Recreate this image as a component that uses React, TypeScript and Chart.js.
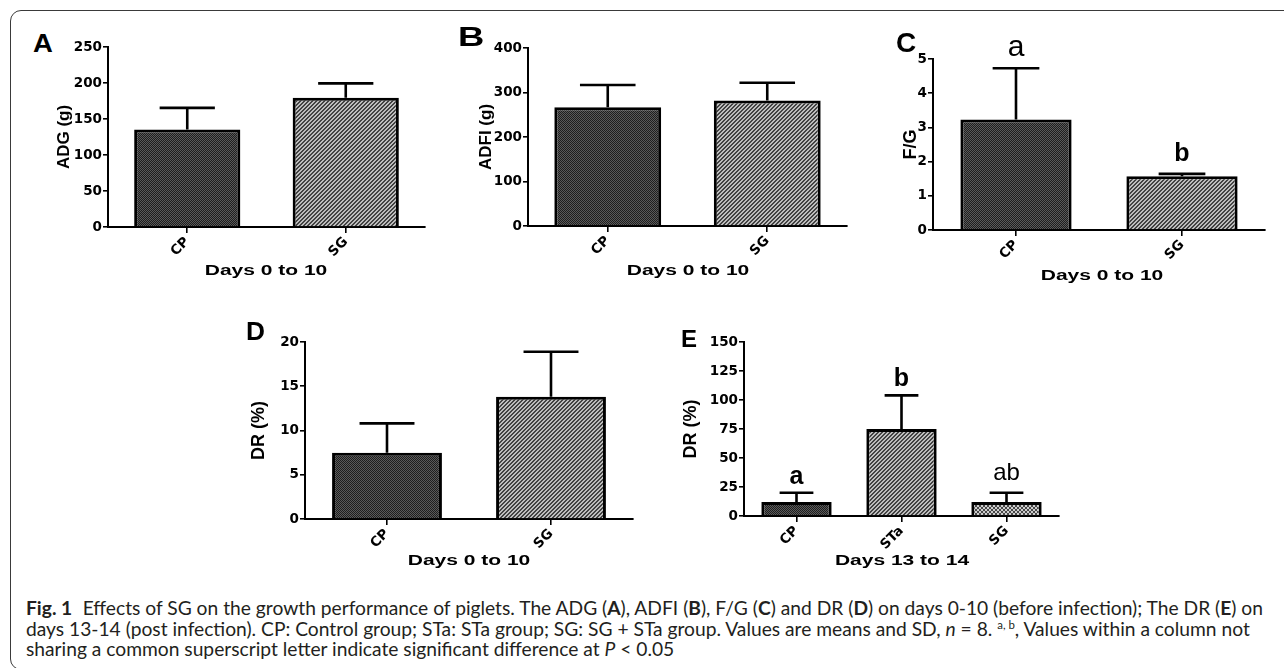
import React, { useEffect, useLayoutEffect, useRef, useState } from 'react';
import { Chart, registerables } from 'chart.js';

Chart.register(...registerables);

// ---------------- data ----------------
const groupsDays0to10 = ['CP', 'SG'];
const groupsDays13to14 = ['CP', 'STa', 'SG'];

const adgMean = [135.5, 179.5];
const adgSD = [30, 20];
const adgTicks = [0, 50, 100, 150, 200, 250];

const adfiMean = [267, 282];
const adfiSD = [50, 40];
const adfiTicks = [0, 100, 200, 300, 400];

const fgMean = [3.23, 1.57];
const fgSD = [1.5, 0.07];
const fgTicks = [0, 1, 2, 3, 4, 5];
const fgLetters = ['a', 'b'];

const drPreMean = [7.5, 13.8];
const drPreSD = [3.3, 5.1];
const drPreTicks = [0, 5, 10, 15, 20];

const drPostMean = [12, 75, 12];
const drPostSD = [8, 29, 8];
const drPostTicks = [0, 25, 50, 75, 100, 125, 150];
const drPostLetters = ['a', 'b', 'ab'];

// ---------------- layout / style ----------------
const PAD_T = 40;
const PAD_R = 6;
const X_AXIS_H = 44;
const SANS = '"Liberation Sans", Arial, sans-serif';

type PanelCfg = {
  labels: string[];
  values: number[];
  sd: number[];
  ticks: number[];
  title: string;
  L: number; R: number; T: number; B: number;
  titleCx: number; titleSize: number;
  fills: string[];
  letters?: string[];
  letterFonts?: string[];
  letterGaps?: number[];
  capRatio: number;
};

const panels: PanelCfg[] = [
  {
    labels: groupsDays0to10, values: adgMean, sd: adgSD, ticks: adgTicks, title: 'ADG (g)',
    L: 108, R: 425, T: 47, B: 227, titleCx: 64, titleSize: 17, fills: ['checker', 'diag'], capRatio: 0.52,
  },
  {
    labels: groupsDays0to10, values: adfiMean, sd: adfiSD, ticks: adfiTicks, title: 'ADFI (g)',
    L: 528, R: 847, T: 48, B: 226, titleCx: 486, titleSize: 17, fills: ['checker', 'diag'], capRatio: 0.52,
  },
  {
    labels: groupsDays0to10, values: fgMean, sd: fgSD, ticks: fgTicks, title: 'F/G',
    L: 933, R: 1265, T: 59, B: 230, titleCx: 911, titleSize: 18, fills: ['checker', 'diag'], capRatio: 0.42,
    letters: fgLetters,
    letterFonts: ['500 30px ' + SANS, 'bold 25px ' + SANS],
    letterGaps: [12, 13],
  },
  {
    labels: groupsDays0to10, values: drPreMean, sd: drPreSD, ticks: drPreTicks, title: 'DR (%)',
    L: 305, R: 633, T: 342, B: 519, titleCx: 259, titleSize: 18, fills: ['checker', 'diag'], capRatio: 0.5,
  },
  {
    labels: groupsDays13to14, values: drPostMean, sd: drPostSD, ticks: drPostTicks, title: 'DR (%)',
    L: 744, R: 1059, T: 342, B: 516, titleCx: 691, titleSize: 18, fills: ['checker', 'diag', 'cross'], capRatio: 0.48,
    letters: drPostLetters,
    letterFonts: ['bold 25px ' + SANS, 'bold 25px ' + SANS, 'normal 24px ' + SANS],
    letterGaps: [9, 9, 13],
  },
];

function makePattern(ctx: CanvasRenderingContext2D, kind: string): CanvasPattern | string {
  const tile = document.createElement('canvas');
  const g = tile.getContext('2d');
  if (!g) return '#777';
  if (kind === 'checker') {
    tile.width = 2; tile.height = 2;
    g.fillStyle = '#5a5a5a'; g.fillRect(0, 0, 2, 2);
    g.fillStyle = '#1e1e1e'; g.fillRect(0, 0, 1, 1); g.fillRect(1, 1, 1, 1);
  } else if (kind === 'diag') {
    tile.width = 4; tile.height = 4;
    g.fillStyle = '#bdbdbd'; g.fillRect(0, 0, 4, 4);
    g.fillStyle = '#424242';
    for (let y = 0; y < 4; y++) {
      g.fillRect((3 - y + 4) % 4, y, 1, 1);
      g.fillRect((4 - y) % 4, y, 1, 1);
    }
  } else {
    tile.width = 4; tile.height = 4;
    g.fillStyle = '#cdcdcd'; g.fillRect(0, 0, 4, 4);
    g.fillStyle = '#484848';
    for (let i = 0; i < 4; i++) {
      g.fillRect(i, i, 1, 1);
      g.fillRect(3 - i, i, 1, 1);
    }
  }
  return ctx.createPattern(tile, 'repeat') ?? '#777';
}

function BarPanel({ cfg }: { cfg: PanelCfg }) {
  const ref = useRef<HTMLCanvasElement>(null);
  const canvasLeft = Math.round(cfg.titleCx - (cfg.titleSize * 1.2) / 2);
  const canvasTop = cfg.T - PAD_T;
  const width = cfg.R + PAD_R - canvasLeft;
  const height = cfg.B + X_AXIS_H - canvasTop;

  useEffect(() => {
    const canvas = ref.current;
    if (!canvas) return;
    const ctx = canvas.getContext('2d');
    if (!ctx) return;
    const fills = cfg.fills.map((k) => makePattern(ctx, k));

    const errPlugin = {
      id: 'errorBarsAndLetters',
      afterDatasetsDraw(chart: any) {
        const c = chart.ctx as CanvasRenderingContext2D;
        const meta = chart.getDatasetMeta(0);
        const yScale = chart.scales.y;
        c.save();
        c.strokeStyle = '#000';
        c.fillStyle = '#000';
        c.lineWidth = 2.6;
        meta.data.forEach((bar: any, i: number) => {
          const v = cfg.values[i];
          const top = yScale.getPixelForValue(v);
          const errTop = yScale.getPixelForValue(v + cfg.sd[i]);
          const half = (bar.width * cfg.capRatio) / 2;
          c.beginPath();
          c.moveTo(bar.x, top);
          c.lineTo(bar.x, errTop);
          c.moveTo(bar.x - half, errTop);
          c.lineTo(bar.x + half, errTop);
          c.stroke();
          if (cfg.letters && cfg.letterFonts && cfg.letterGaps) {
            c.font = cfg.letterFonts[i];
            c.textAlign = 'center';
            c.textBaseline = 'alphabetic';
            c.fillText(cfg.letters[i], bar.x, errTop - cfg.letterGaps[i]);
          }
        });
        c.restore();
      },
    };

    const tickFont = { family: '"DejaVu Sans", sans-serif', weight: 'bold' as const, size: 13.5 };
    const chart = new Chart(canvas, {
      type: 'bar',
      data: {
        labels: cfg.labels,
        datasets: [
          {
            data: cfg.values,
            backgroundColor: fills as any,
            borderColor: '#000',
            borderWidth: 3,
            borderSkipped: 'start',
            barPercentage: 0.67,
            categoryPercentage: 1,
          },
        ],
      },
      options: {
        responsive: false,
        animation: false,
        devicePixelRatio: 1,
        layout: { padding: { top: PAD_T, right: PAD_R, left: 0, bottom: 0 } },
        plugins: {
          legend: { display: false },
          tooltip: { enabled: false },
          title: { display: false },
        },
        scales: {
          x: {
            type: 'category',
            offset: true,
            grid: {
              display: true,
              offset: false,
              drawOnChartArea: false,
              drawTicks: true,
              tickLength: 6,
              color: '#000',
              lineWidth: 1.6,
            },
            border: { display: true, color: '#000', width: 2 },
            ticks: {
              autoSkip: false,
              minRotation: 45,
              maxRotation: 45,
              color: '#000',
              font: tickFont,
              padding: 1,
            },
            afterFit: (s: any) => {
              s.height = X_AXIS_H;
              s.paddingLeft = 0;
              s.paddingRight = 0;
            },
          },
          y: {
            type: 'linear',
            min: cfg.ticks[0],
            max: cfg.ticks[cfg.ticks.length - 1],
            grid: {
              display: true,
              drawOnChartArea: false,
              drawTicks: true,
              tickLength: 5,
              color: '#000',
              lineWidth: 1.6,
            },
            border: { display: true, color: '#000', width: 2 },
            ticks: { color: '#000', font: tickFont, padding: 1 },
            afterBuildTicks: (s: any) => {
              s.ticks = cfg.ticks.map((v) => ({ value: v }));
            },
            title: {
              display: true,
              text: cfg.title,
              color: '#000',
              font: { family: SANS, weight: 'bold', size: cfg.titleSize },
              padding: 0,
            },
            afterFit: (s: any) => {
              s.width = cfg.L - canvasLeft;
              s.paddingTop = 0;
              s.paddingBottom = 0;
            },
          },
        },
      } as any,
      plugins: [errPlugin],
    });
    return () => chart.destroy();
  }, []);

  return (
    <canvas
      ref={ref}
      width={width}
      height={height}
      style={{ position: 'absolute', left: canvasLeft, top: canvasTop, width: width + 'px', height: height + 'px' }}
    />
  );
}

function PanelLetter({ text, left, capTop, size, sx }: { text: string; left: number; capTop: number; size: number; sx: number }) {
  return (
    <div
      style={{
        position: 'absolute',
        left,
        top: capTop - 0.13 * size,
        font: `bold ${size}px ${SANS}`,
        lineHeight: 1,
        color: '#000',
        transform: `scaleX(${sx})`,
        transformOrigin: '0 0',
        whiteSpace: 'nowrap',
      }}
    >
      {text}
    </div>
  );
}

function AxisTitle({ text, cx, capTop }: { text: string; cx: number; capTop: number }) {
  return (
    <div
      style={{
        position: 'absolute',
        left: cx - 150,
        width: 300,
        top: capTop - 1.8,
        textAlign: 'center',
        font: `bold 14px ${SANS}`,
        lineHeight: 1,
        color: '#000',
        transform: 'scaleX(1.5)',
        transformOrigin: '50% 0',
        whiteSpace: 'nowrap',
      }}
    >
      {text}
    </div>
  );
}

function Caption() {
  const ref = useRef<HTMLSpanElement>(null);
  const [scale, setScale] = useState(1);
  useLayoutEffect(() => {
    if (ref.current) {
      const w = ref.current.offsetWidth;
      if (w > 0) setScale(1237 / w);
    }
  }, []);
  const lineStyle: React.CSSProperties = { height: 20.5, lineHeight: '20.5px', whiteSpace: 'nowrap' };
  return (
    <div
      style={{
        position: 'absolute',
        left: 26,
        top: 598,
        fontFamily: 'Lato, "Noto Sans", sans-serif',
        fontSize: 18.5,
        color: '#231f20',
        transform: `scaleX(${scale})`,
        transformOrigin: '0 0',
      }}
    >
      <div style={lineStyle}>
        <span ref={ref} style={{ display: 'inline-block' }}>
          <b>Fig. 1</b>
          <span style={{ display: 'inline-block', width: 10 }} />
          Effects of SG on the growth performance of piglets. The ADG (<b>A</b>), ADFI (<b>B</b>), F/G (<b>C</b>) and DR (<b>D</b>) on days 0-10 (before infection); The DR (<b>E</b>) on
        </span>
      </div>
      <div style={lineStyle}>
        days 13-14 (post infection). CP: Control group; STa: STa group; SG: SG + STa group. Values are means and SD, <i>n</i> = 8.{' '}
        <sup style={{ fontSize: 11, lineHeight: 0 }}>a, b</sup>, Values within a column not
      </div>
      <div style={lineStyle}>
        sharing a common superscript letter indicate significant difference at <i>P</i> &lt; 0.05
      </div>
    </div>
  );
}

export default function App() {
  return (
    <div style={{ position: 'absolute', left: 0, top: 0, width: 1284, height: 668, background: '#fff', overflow: 'hidden' }}>
      <div
        style={{
          position: 'absolute',
          left: 10,
          top: 10,
          width: 1300,
          height: 660,
          boxSizing: 'border-box',
          border: '1.5px solid #3a3a3a',
          borderRadius: 11,
        }}
      />
      {panels.map((p, i) => (
        <BarPanel key={i} cfg={p} />
      ))}
      <PanelLetter text="A" left={33} capTop={34} size={25} sx={1.1} />
      <PanelLetter text="B" left={458} capTop={27} size={28} sx={1.3} />
      <PanelLetter text="C" left={896} capTop={33} size={28} sx={1} />
      <PanelLetter text="D" left={246} capTop={322} size={25} sx={1.05} />
      <PanelLetter text="E" left={681} capTop={330} size={24} sx={1} />
      <AxisTitle text="Days 0 to 10" cx={266} capTop={265} />
      <AxisTitle text="Days 0 to 10" cx={688} capTop={265} />
      <AxisTitle text="Days 0 to 10" cx={1102} capTop={270} />
      <AxisTitle text="Days 0 to 10" cx={469} capTop={555} />
      <AxisTitle text="Days 13 to 14" cx={902} capTop={555} />
      <Caption />
    </div>
  );
}
